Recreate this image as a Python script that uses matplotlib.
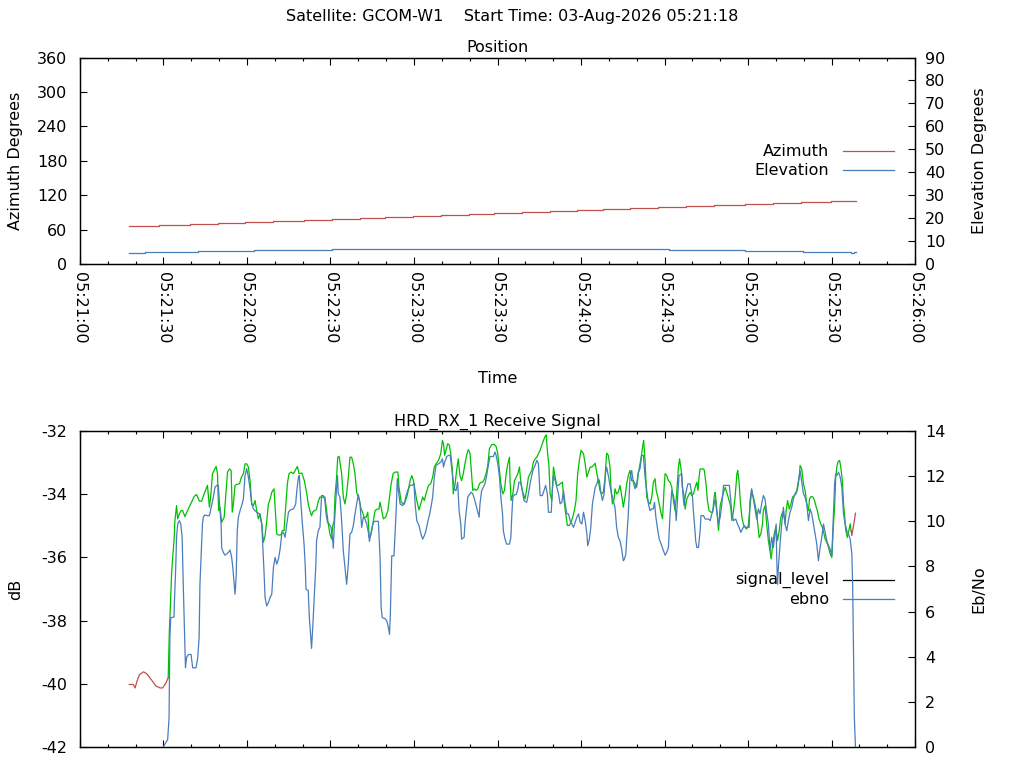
import numpy as np
import matplotlib
matplotlib.use('Agg')
import matplotlib.pyplot as plt
from matplotlib.ticker import MultipleLocator, FuncFormatter

plt.rcParams['font.family'] = ['DejaVu Sans']
plt.rcParams['axes.unicode_minus'] = False

# pass info
satellite = 'GCOM-W1'
start_label = '03-Aug-2026 05:21:18'
axis_start = (5, 21, 0)          # hh, mm, ss at x = 0 s
axis_span = 300                  # seconds shown
lock_on_sec = 31.7               # receiver lock acquired
lock_off_sec = 277.0             # receiver lock lost

# antenna position (seconds after 05:21:00)
az_sec = [17.6, 28.4, 39.5, 49.5, 59.3, 69.2, 80.4, 90.5, 100.6, 109.6, 119.5, 129.7, 139.8,
          148.8, 158.8, 168.9, 178.7, 188.0, 197.6, 207.7, 217.7, 227.8, 238.9, 249.0, 259.1,
          269.7, 278.7]
az_deg = [65.7, 67.4, 69.2, 70.9, 72.7, 74.4, 76.1, 77.9, 79.6, 81.4, 83.1, 84.8, 86.6,
          88.3, 90.0, 91.8, 93.5, 95.3, 97.0, 98.7, 100.5, 102.2, 104.0, 105.7, 107.4,
          109.2, 109.2]
el_sec = [17.6, 23.4, 42.3, 62.5, 90.5, 211.6, 239.0, 259.7, 277.0, 278.1, 278.7]
el_deg = [4.7, 5.1, 5.5, 6.0, 6.4, 6.0, 5.5, 5.1, 4.7, 5.1, 5.1]

# receiver samples: (seconds after 05:21:00, value)
signal_samples = [
    (17.7, -40.02), (19.2, -40.02), (19.8, -40.13), (20.4, -39.94), (21.3, -39.72), (22.8, -39.62),
    (24.0, -39.68), (25.8, -39.89), (27.3, -40.07), (28.8, -40.13), (29.7, -40.13), (30.9, -39.97),
    (31.7, -39.81),
    (32.1, -38.33), (32.6, -37.27), (32.9, -36.53), (33.3, -36.00), (33.8, -35.47), (34.1, -34.84),
    (34.7, -34.36), (35.1, -34.78), (35.7, -34.62), (36.3, -34.52), (36.9, -34.52), (37.7, -34.71),
    (38.9, -34.47), (40.1, -34.25), (41.0, -34.07), (41.9, -34.01), (42.9, -34.22), (43.7, -34.22),
    (44.6, -33.99), (45.8, -33.72), (46.5, -34.41), (47.0, -34.04), (47.6, -33.35), (48.2, -33.25),
    (48.9, -33.12), (49.4, -33.35), (49.8, -34.52), (50.3, -34.41), (50.9, -34.89), (51.8, -34.73),
    (52.5, -33.88), (53.0, -33.30), (53.7, -33.20), (54.3, -33.25), (54.7, -34.57), (55.1, -34.31),
    (55.7, -33.72), (56.3, -33.69), (57.3, -33.67), (58.0, -33.46), (58.7, -33.35), (59.3, -33.04),
    (59.9, -33.04), (60.5, -33.14), (61.1, -33.57), (61.7, -34.31), (62.3, -34.36), (62.9, -34.20),
    (63.5, -34.52), (64.1, -34.78), (64.7, -34.62), (65.3, -34.94), (65.9, -35.52),
    (66.5, -35.31), (67.1, -34.84), (67.7, -34.31), (68.3, -34.15), (68.9, -33.94), (69.7, -33.83),
    (70.1, -34.41), (70.7, -35.26), (71.3, -35.29), (72.2, -35.29), (72.7, -35.15), (73.3, -35.15),
    (73.9, -34.41), (74.5, -33.67), (75.1, -33.35), (75.8, -33.30), (76.7, -33.35), (77.3, -33.25),
    (78.1, -33.12), (78.7, -33.35), (79.7, -33.33), (80.6, -33.57), (81.5, -33.99), (82.0, -34.31),
    (82.6, -34.52), (83.2, -34.68), (83.8, -34.54), (84.4, -34.52), (85.0, -34.47), (85.6, -34.22),
    (86.2, -34.09), (87.1, -34.09), (88.0, -34.09), (88.6, -34.52), (89.2, -34.94), (89.8, -35.26),
    (90.4, -35.42), (90.8, -35.00), (91.3, -34.84), (91.6, -34.09), (92.2, -33.46), (92.6, -32.83),
    (93.1, -32.80), (93.4, -32.98), (94.0, -33.35), (94.6, -34.09), (95.2, -34.31), (95.8, -33.99),
    (96.4, -33.46), (97.0, -32.83), (97.6, -32.83), (98.2, -33.04), (98.8, -33.35), (99.4, -33.94),
    (100.3, -34.15), (101.0, -34.47), (101.5, -34.57), (102.1, -34.73), (102.8, -34.73), (103.4, -34.57),
    (103.9, -35.37), (104.6, -35.26), (105.4, -34.84), (106.0, -34.52), (106.8, -34.47), (107.4, -34.47),
    (107.8, -34.25), (108.4, -34.52), (109.0, -34.78), (109.8, -34.73), (110.6, -34.52), (111.2, -34.09),
    (111.8, -33.67), (112.5, -33.35), (113.2, -33.30), (114.2, -33.30), (114.6, -33.78), (115.4, -34.25),
    (116.2, -34.31), (117.0, -34.20), (117.7, -33.99),
    (118.6, -33.57), (119.2, -33.41), (119.8, -33.57), (120.4, -33.88), (121.0, -34.20), (121.8, -34.50),
    (122.4, -34.31), (123.1, -34.09), (123.7, -34.20), (124.3, -33.99), (125.2, -33.72), (126.0, -33.67),
    (126.7, -33.46), (127.3, -33.14), (127.9, -33.04), (128.8, -32.93), (129.6, -32.72), (130.2, -32.30),
    (130.6, -32.40), (131.0, -32.77), (131.5, -32.61), (132.1, -32.40), (132.7, -32.45), (133.2, -32.72),
    (133.8, -33.25), (134.1, -33.99), (134.7, -33.72), (135.3, -33.25), (135.9, -32.88), (136.5, -33.41),
    (137.1, -33.57), (137.7, -33.35), (138.3, -33.04), (138.9, -32.77), (139.5, -32.59), (140.1, -32.70),
    (140.5, -33.14), (141.1, -33.88), (141.7, -33.83), (142.3, -33.88), (142.9, -33.83), (143.5, -33.67),
    (144.1, -33.62), (144.7, -33.62), (145.3, -33.51), (145.9, -33.35), (146.5, -33.09), (147.1, -32.56),
    (147.9, -32.43), (148.8, -32.42), (149.5, -32.49), (150.1, -32.72), (150.6, -33.14), (151.2, -33.67),
    (151.9, -33.99), (152.5, -33.88), (153.1, -33.35), (153.7, -33.04), (154.3, -32.83), (154.5, -33.57),
    (154.9, -34.20), (155.5, -33.99), (156.1, -33.57), (156.7, -33.46), (157.3, -33.35), (157.9, -33.14),
    (158.3, -33.57), (158.9, -33.88), (159.5, -34.04), (159.9, -34.15), (160.5, -33.83), (161.1, -33.46),
    (161.7, -33.35), (162.3, -33.25), (162.9, -32.98), (163.5, -32.88), (164.1, -32.83), (164.7, -32.72),
    (165.3, -32.61), (165.9, -32.45), (166.5, -32.30), (167.1, -32.17), (167.5, -32.12), (167.9, -32.61),
    (168.5, -33.14), (168.9, -33.99), (169.5, -34.20), (170.1, -33.14),
    (170.7, -33.46), (171.3, -33.72), (171.9, -33.72), (172.5, -33.67), (173.3, -33.62), (173.9, -34.20),
    (174.5, -34.62), (175.1, -34.99), (175.8, -34.99), (176.4, -34.89), (177.0, -34.73), (177.6, -34.52),
    (178.2, -34.20), (178.8, -33.35), (179.4, -32.93), (180.0, -32.61), (180.9, -32.72), (181.5, -33.04),
    (182.1, -33.46), (182.7, -33.30), (183.3, -33.14), (183.9, -33.14), (184.5, -33.09), (185.1, -33.02),
    (185.7, -33.35), (186.2, -33.57), (186.8, -33.88), (187.4, -33.99), (188.0, -33.94), (188.6, -33.51),
    (189.2, -32.70), (189.8, -32.77), (190.4, -33.14), (190.8, -33.88), (191.3, -34.31), (191.9, -34.15),
    (192.2, -33.83), (192.8, -33.99), (193.4, -33.94), (194.0, -33.72), (194.6, -34.04), (195.2, -34.41),
    (195.8, -34.09), (196.4, -33.67), (197.0, -33.41), (197.6, -33.25), (198.2, -33.57), (198.8, -33.57),
    (199.4, -33.67), (200.0, -33.78), (200.6, -33.35), (201.2, -33.04), (201.8, -32.72), (202.2, -32.45),
    (202.5, -32.30), (203.0, -32.93), (203.6, -34.09), (204.2, -34.25), (204.8, -34.31), (205.4, -34.09),
    (206.0, -33.62), (206.6, -33.51), (207.0, -33.88), (207.6, -34.09), (208.2, -34.36), (208.8, -34.62),
    (209.3, -34.78), (209.8, -33.88), (210.2, -33.35), (210.8, -33.41), (211.4, -33.57), (212.0, -33.62),
    (212.6, -33.78), (213.2, -34.20), (213.8, -34.52), (214.4, -33.94), (215.0, -33.14), (215.4, -32.88),
    (216.0, -33.25), (216.4, -33.78), (217.0, -34.04), (217.4, -34.47), (218.0, -34.15), (218.6, -34.04),
    (219.2, -33.94), (219.8, -34.04), (220.4, -33.99), (221.0, -33.78), (221.6, -33.62), (222.0, -33.88),
    (222.4, -33.46),
    (222.8, -33.20), (224.0, -33.20), (224.3, -33.25), (224.9, -33.67), (225.4, -34.20), (226.0, -34.52),
    (226.7, -34.57), (227.3, -34.57), (227.9, -34.04), (228.2, -33.94), (228.5, -34.20), (229.1, -34.84),
    (229.4, -35.15), (230.0, -34.36), (230.6, -34.15), (231.2, -33.94), (231.8, -33.78), (232.1, -33.88),
    (232.7, -34.04), (233.2, -34.20), (233.8, -34.41), (234.2, -34.84), (234.8, -34.52), (235.4, -34.04),
    (236.0, -33.35), (236.3, -33.25), (236.8, -33.62), (237.2, -34.20), (237.8, -34.73), (238.3, -34.94),
    (238.9, -35.05), (239.5, -35.10), (240.1, -34.99), (240.7, -34.41), (241.3, -33.88), (241.9, -34.09),
    (242.5, -34.31), (243.1, -34.62), (243.5, -34.94), (244.0, -35.37), (244.6, -35.26), (245.2, -34.94),
    (245.5, -34.52), (246.1, -34.36), (246.7, -34.94), (247.3, -35.47), (247.9, -35.79), (248.3, -36.05),
    (248.9, -35.58), (249.4, -35.26), (250.0, -35.05), (250.6, -35.47), (251.2, -35.15), (251.8, -34.73),
    (252.4, -34.57), (253.0, -34.73), (253.3, -34.94), (253.7, -34.52), (254.2, -34.20), (254.8, -34.47),
    (255.4, -34.31), (256.0, -34.09), (256.6, -34.04), (257.2, -33.99), (257.8, -33.83), (258.4, -33.46),
    (258.7, -33.09), (259.3, -33.20), (259.9, -33.67), (260.5, -33.88), (261.1, -34.31), (261.7, -34.52),
    (262.1, -34.15), (262.7, -34.07), (263.3, -34.09), (263.9, -34.20), (264.5, -34.41), (264.9, -34.52),
    (265.5, -34.78), (266.1, -34.94), (266.7, -35.05), (267.3, -35.26), (267.7, -35.42), (268.3, -35.52),
    (268.9, -35.68), (269.5, -35.89), (270.1, -36.00), (270.7, -34.94), (271.1, -34.41), (271.5, -33.46),
    (271.9, -33.14), (272.3, -32.98), (272.9, -32.93), (273.3, -33.14), (273.9, -33.57), (274.3, -34.31),
    (274.7, -34.68), (275.1, -35.15), (275.7, -35.37), (276.2, -35.15), (276.7, -34.94), (277.0, -35.15),
    (277.3, -35.31), (277.6, -35.15), (278.1, -34.89), (278.6, -34.60),
]

ebno_samples = [
    (29.9, 0.00), (31.5, 0.33), (32.0, 1.29), (32.2, 3.66), (32.3, 4.84), (32.6, 5.73), (33.8, 5.76),
    (33.9, 6.33), (34.4, 7.96), (34.7, 9.29), (35.1, 9.88), (35.7, 10.03), (36.2, 9.88), (36.7, 9.29),
    (37.1, 7.21), (37.5, 5.44), (37.9, 3.51), (38.3, 3.96), (38.9, 4.10), (39.9, 4.10), (40.5, 3.51),
    (41.7, 3.51), (42.3, 3.96), (42.8, 4.84), (43.1, 7.21), (43.5, 8.40), (44.0, 9.88), (44.3, 10.18),
    (44.9, 10.28), (45.8, 10.25), (46.5, 10.25), (47.0, 10.55), (47.7, 10.92), (48.5, 11.51), (49.1, 11.59),
    (49.7, 11.59), (50.3, 10.47), (50.7, 9.88), (50.9, 8.84), (51.5, 8.62), (52.1, 8.50), (52.7, 8.55),
    (53.3, 8.62), (53.9, 8.73), (54.5, 8.40), (54.9, 7.96), (55.3, 7.36), (55.7, 6.77), (56.1, 7.51),
    (56.5, 9.58), (56.9, 10.18), (57.5, 10.47), (58.1, 10.70), (58.7, 10.99), (59.3, 12.03), (59.9, 12.33),
    (60.5, 11.96), (61.1, 11.44), (61.7, 10.77), (62.3, 10.55), (62.9, 10.47), (63.5, 10.40), (64.5, 10.33),
    (65.3, 9.88), (65.7, 8.84), (66.1, 7.81),
    (66.5, 6.62), (67.1, 6.25), (67.7, 6.40), (68.3, 6.62), (68.9, 6.77), (69.5, 7.96), (70.1, 8.40),
    (70.7, 8.10), (71.3, 8.33), (71.9, 8.77), (72.5, 9.44), (73.1, 9.51), (73.7, 9.29), (74.3, 9.88),
    (74.9, 10.40), (75.5, 10.50), (76.7, 10.55), (77.5, 10.77), (77.9, 11.36), (78.5, 11.96), (78.8, 12.03),
    (79.3, 10.92), (79.9, 9.88), (80.5, 8.99), (80.9, 8.10), (81.2, 6.99), (82.0, 6.94), (82.4, 5.73),
    (82.9, 4.84), (83.2, 4.37), (83.8, 5.73), (84.2, 6.77), (84.7, 7.96), (85.0, 9.14), (85.6, 9.58),
    (86.2, 9.73), (86.8, 11.14), (87.4, 11.14), (88.0, 10.92), (88.4, 10.33), (88.9, 9.96), (89.5, 9.88),
    (90.2, 9.73), (90.7, 9.29), (91.0, 8.81), (91.4, 9.88), (91.9, 10.92), (92.5, 12.03), (92.8, 11.22),
    (93.4, 11.07), (94.0, 10.03), (94.6, 8.70), (95.2, 7.96), (95.8, 7.21), (96.4, 8.10), (97.0, 9.44),
    (97.6, 9.51), (98.2, 9.81), (98.8, 10.33), (99.4, 10.77), (100.0, 11.18), (100.6, 10.77), (101.2, 9.73),
    (101.8, 10.18), (102.4, 10.10), (103.0, 9.88), (103.6, 9.51), (104.0, 9.11), (104.6, 9.51), (105.2, 9.88),
    (105.8, 10.00), (107.2, 10.00), (107.8, 8.40), (108.2, 6.18), (108.6, 5.73), (109.6, 5.69), (110.2, 5.59),
    (110.8, 5.29), (111.2, 4.99), (111.5, 5.88), (112.0, 8.47), (112.8, 8.47), (113.6, 10.47), (114.0, 11.88),
    (114.4, 11.36), (115.0, 10.77), (115.8, 10.70), (116.6, 10.77), (117.0, 11.07), (117.7, 11.36),
    (118.6, 11.59), (119.2, 11.59), (120.0, 11.66), (120.4, 10.77), (121.0, 10.03), (121.8, 9.81),
    (122.5, 9.44), (123.1, 9.21), (123.7, 9.36), (124.3, 9.58), (124.9, 9.96), (125.5, 10.25), (126.1, 10.62),
    (126.7, 11.07), (127.3, 11.96), (127.9, 12.47), (128.8, 12.55), (129.6, 12.62), (130.2, 12.77),
    (130.6, 12.40), (131.0, 12.62), (131.8, 12.87), (132.4, 12.92), (133.0, 12.92), (133.3, 12.62),
    (133.9, 11.96), (134.5, 11.44), (135.1, 11.36), (135.7, 11.73), (136.2, 10.47), (136.8, 9.88),
    (137.1, 9.21), (138.0, 9.29), (138.3, 9.88), (138.9, 10.62), (139.3, 11.07), (139.9, 11.18),
    (140.5, 11.29), (141.1, 11.22), (141.7, 10.99), (142.3, 10.70), (142.9, 10.40), (143.4, 10.18),
    (143.7, 10.77), (144.3, 11.36), (144.9, 11.51), (145.5, 11.66), (146.1, 12.03), (146.7, 12.47),
    (147.3, 12.87), (148.5, 12.87), (149.1, 13.07), (149.5, 12.92), (150.1, 12.55), (150.7, 11.96),
    (151.2, 11.07), (151.8, 10.33), (152.1, 9.58), (152.7, 9.21), (153.3, 8.99), (154.3, 8.99),
    (154.8, 9.29), (155.1, 10.18), (155.5, 11.07), (156.1, 11.18), (156.7, 11.18), (157.2, 11.36),
    (157.7, 11.73), (158.3, 11.73), (158.9, 11.36), (159.5, 10.92), (160.5, 10.84), (161.1, 11.22),
    (161.7, 11.66), (162.3, 12.03), (162.9, 12.33), (163.5, 12.47), (164.1, 12.70), (164.7, 12.55),
    (165.3, 11.14), (166.1, 11.14), (166.9, 11.44), (167.3, 11.59), (167.9, 11.22), (168.3, 10.40),
    (169.3, 10.40), (169.7, 11.36), (170.1, 12.03),
    (170.7, 11.81), (171.3, 11.51), (171.9, 11.22), (172.5, 10.77), (173.1, 10.84), (173.7, 11.36),
    (174.3, 10.77), (174.9, 10.33), (175.5, 10.33), (176.1, 10.03), (176.7, 9.88), (177.3, 9.73),
    (177.9, 9.96), (178.5, 10.18), (179.1, 10.33), (179.7, 9.96), (180.3, 9.88), (180.9, 10.40),
    (181.5, 10.03), (182.1, 9.44), (182.4, 8.92), (183.0, 9.21), (183.5, 9.73), (184.1, 10.77),
    (184.7, 11.22), (185.1, 11.51), (185.7, 11.66), (186.2, 11.88), (186.6, 11.81), (187.1, 11.29),
    (187.7, 10.92), (188.3, 11.22), (188.8, 12.10), (189.2, 12.40), (189.8, 12.03), (190.4, 11.59),
    (191.0, 11.22), (191.6, 10.92), (192.2, 10.62), (192.8, 9.73), (193.4, 9.29), (194.0, 9.14),
    (194.6, 8.77), (195.2, 8.25), (195.6, 8.33), (196.1, 8.55), (196.4, 9.21), (197.0, 10.33),
    (197.6, 11.96), (198.2, 12.25), (198.8, 11.73), (199.4, 11.44), (200.0, 11.66), (200.6, 12.18),
    (201.2, 12.33), (201.8, 12.92), (202.4, 12.92), (203.0, 11.96), (203.6, 11.36), (204.2, 10.77),
    (204.8, 10.47), (205.4, 10.55), (206.0, 10.55), (206.4, 10.84), (206.9, 10.18), (207.5, 9.66),
    (208.1, 9.21), (208.8, 8.99), (209.4, 8.77), (210.2, 8.50), (210.8, 8.62), (211.4, 8.84),
    (212.0, 10.33), (212.6, 11.36), (213.2, 11.14), (213.8, 10.70), (214.2, 10.03), (214.6, 10.84),
    (215.2, 12.03), (216.2, 12.10), (216.6, 11.22), (217.0, 10.70), (217.6, 11.22), (218.4, 11.66),
    (219.2, 11.66), (219.6, 11.36), (220.0, 11.14), (220.4, 10.40), (220.8, 9.81), (221.2, 9.14),
    (221.6, 8.84), (222.2, 8.84),
    (222.8, 9.58), (223.1, 10.25), (224.0, 10.25), (224.6, 10.10), (225.8, 10.10), (226.4, 10.03),
    (227.0, 10.33), (227.6, 10.62), (228.2, 10.99), (228.8, 10.40), (229.4, 9.88), (230.0, 10.18),
    (230.6, 10.77), (231.2, 11.59), (232.4, 11.59), (233.3, 11.59), (233.8, 10.92), (234.2, 10.33),
    (234.8, 10.03), (235.6, 10.10), (236.2, 9.88), (236.8, 9.73), (237.4, 9.51), (238.0, 9.66),
    (238.6, 9.81), (239.2, 9.73), (240.4, 9.73), (240.7, 10.92), (241.3, 11.44), (241.9, 10.99),
    (242.5, 10.55), (243.1, 10.10), (243.7, 10.55), (244.3, 10.33), (244.9, 10.77), (245.5, 11.14),
    (246.1, 10.99), (246.7, 10.40), (247.3, 9.88), (247.9, 8.70), (248.5, 9.29), (249.1, 8.84),
    (249.7, 9.44), (250.1, 9.88), (250.3, 8.40), (250.6, 7.21), (250.9, 7.96), (251.5, 8.99),
    (252.1, 9.88), (252.7, 10.62), (253.3, 9.88), (253.9, 9.58), (254.5, 10.03), (255.1, 10.40),
    (255.7, 10.62), (256.3, 10.99), (256.9, 11.22), (257.5, 11.36), (258.1, 11.81), (258.7, 12.25),
    (259.3, 11.73), (259.9, 11.22), (260.5, 11.07), (261.1, 10.77), (261.7, 10.03), (262.3, 10.55),
    (262.9, 10.33), (263.5, 9.88), (264.1, 9.44), (264.7, 8.99), (265.3, 8.25), (265.9, 8.84),
    (266.5, 9.29), (267.1, 9.88), (267.7, 9.51), (268.3, 9.14), (268.9, 8.92), (269.5, 8.77),
    (270.1, 8.47), (270.7, 10.33), (271.1, 11.66), (271.5, 12.10), (271.9, 12.03), (272.5, 12.18),
    (273.1, 11.96), (273.7, 11.51), (274.3, 10.33), (274.9, 9.88), (275.5, 9.58), (276.1, 9.44),
    (276.7, 9.21), (277.3, 8.55), (277.6, 7.07), (277.9, 4.25), (278.2, 1.29), (278.6, 0.00),
]

RED = '#c0504d'
BLUE = '#4a7ebb'
GREEN = '#00c000'
FS = 11.5
LW = 0.9


def hms(sec, pos=None):
    h, m, s = axis_start
    total = h * 3600 + m * 60 + s + int(round(sec))
    return '%02d:%02d:%02d' % (total // 3600, (total // 60) % 60, total % 60)


def style_time_axis(ax):
    ax.set_xlim(0, axis_span)
    ax.xaxis.set_major_locator(MultipleLocator(30))
    ax.xaxis.set_minor_locator(MultipleLocator(10))
    ax.xaxis.set_major_formatter(FuncFormatter(hms))
    ax.tick_params(axis='x', which='both', direction='in', top=True, bottom=True)
    ax.tick_params(axis='x', which='major', length=5, width=0.8)
    ax.tick_params(axis='x', which='minor', length=2.5, width=0.8)


def key_entry(ax, y, label, color):
    ax.text(0.897, y, label, transform=ax.transAxes, ha='right', va='center', fontsize=FS)
    ax.plot([0.914, 0.975], [y, y], transform=ax.transAxes, color=color, lw=LW, clip_on=False)


fig = plt.figure(figsize=(10.24, 7.68), dpi=100)
fig.text(0.5, 0.978, 'Satellite: %s    Start Time: %s' % (satellite, start_label),
         ha='center', va='center', fontsize=FS)

# ---- position panel ----
ax1 = fig.add_axes([0.0781, 0.6563, 0.8155, 0.2688])
ax1r = ax1.twinx()
ax1.step(az_sec, az_deg, where='post', color=RED, lw=LW)
ax1r.step(el_sec, el_deg, where='post', color=BLUE, lw=LW)
style_time_axis(ax1)
ax1.set_ylim(0, 360)
ax1.yaxis.set_major_locator(MultipleLocator(60))
ax1r.set_ylim(0, 90)
ax1r.yaxis.set_major_locator(MultipleLocator(10))
ax1.tick_params(axis='y', direction='in', length=5, width=0.8, labelsize=FS, pad=9)
ax1r.tick_params(axis='y', direction='in', length=5, width=0.8, labelsize=FS, pad=7)
ax1.tick_params(axis='x', which='major', labelsize=FS, labelrotation=-90, pad=6)
ax1.set_title('Position', fontsize=FS, pad=4)
ax1.set_xlabel('Time', fontsize=FS)
ax1.xaxis.set_label_coords(0.5, -0.52)
ax1.set_ylabel('Azimuth Degrees', fontsize=FS)
ax1.yaxis.set_label_coords(-0.068, 0.5)
ax1r.set_ylabel('Elevation Degrees', fontsize=FS)
ax1r.yaxis.set_label_coords(1.068, 0.5)
key_entry(ax1, 0.547, 'Azimuth', RED)
key_entry(ax1, 0.455, 'Elevation', BLUE)

# ---- receive signal panel ----
sig = np.array(signal_samples)
eb = np.array(ebno_samples)
t_sig, db = sig[:, 0], sig[:, 1]
pre = t_sig <= lock_on_sec
mid = (t_sig >= lock_on_sec) & (t_sig <= lock_off_sec)
post = t_sig >= lock_off_sec

ax2 = fig.add_axes([0.0781, 0.0273, 0.8155, 0.4115])
ax2r = ax2.twinx()
ax2.plot(t_sig[pre], db[pre], color=RED, lw=LW)
ax2.plot(t_sig[mid], db[mid], color=GREEN, lw=LW)
ax2.plot(t_sig[post], db[post], color=RED, lw=LW)
ax2r.plot(eb[:, 0], eb[:, 1], color=BLUE, lw=LW)
style_time_axis(ax2)
ax2.tick_params(axis='x', labelbottom=False)
ax2.set_ylim(-42, -32)
ax2.yaxis.set_major_locator(MultipleLocator(2))
ax2r.set_ylim(0, 14)
ax2r.yaxis.set_major_locator(MultipleLocator(2))
ax2.tick_params(axis='y', direction='in', length=5, width=0.8, labelsize=FS, pad=9)
ax2r.tick_params(axis='y', direction='in', length=5, width=0.8, labelsize=FS, pad=7)
ax2.set_title('HRD_RX_1 Receive Signal', fontsize=FS, pad=4)
ax2.set_ylabel('dB', fontsize=FS)
ax2.yaxis.set_label_coords(-0.068, 0.5)
ax2r.set_ylabel('Eb/No', fontsize=FS)
ax2r.yaxis.set_label_coords(1.068, 0.5)
key_entry(ax2, 0.5275, 'signal_level', 'black')
key_entry(ax2, 0.4674, 'ebno', BLUE)

for a in (ax1, ax1r, ax2, ax2r):
    for sp in a.spines.values():
        sp.set_linewidth(0.9)

fig.savefig('out.png', dpi=100)
